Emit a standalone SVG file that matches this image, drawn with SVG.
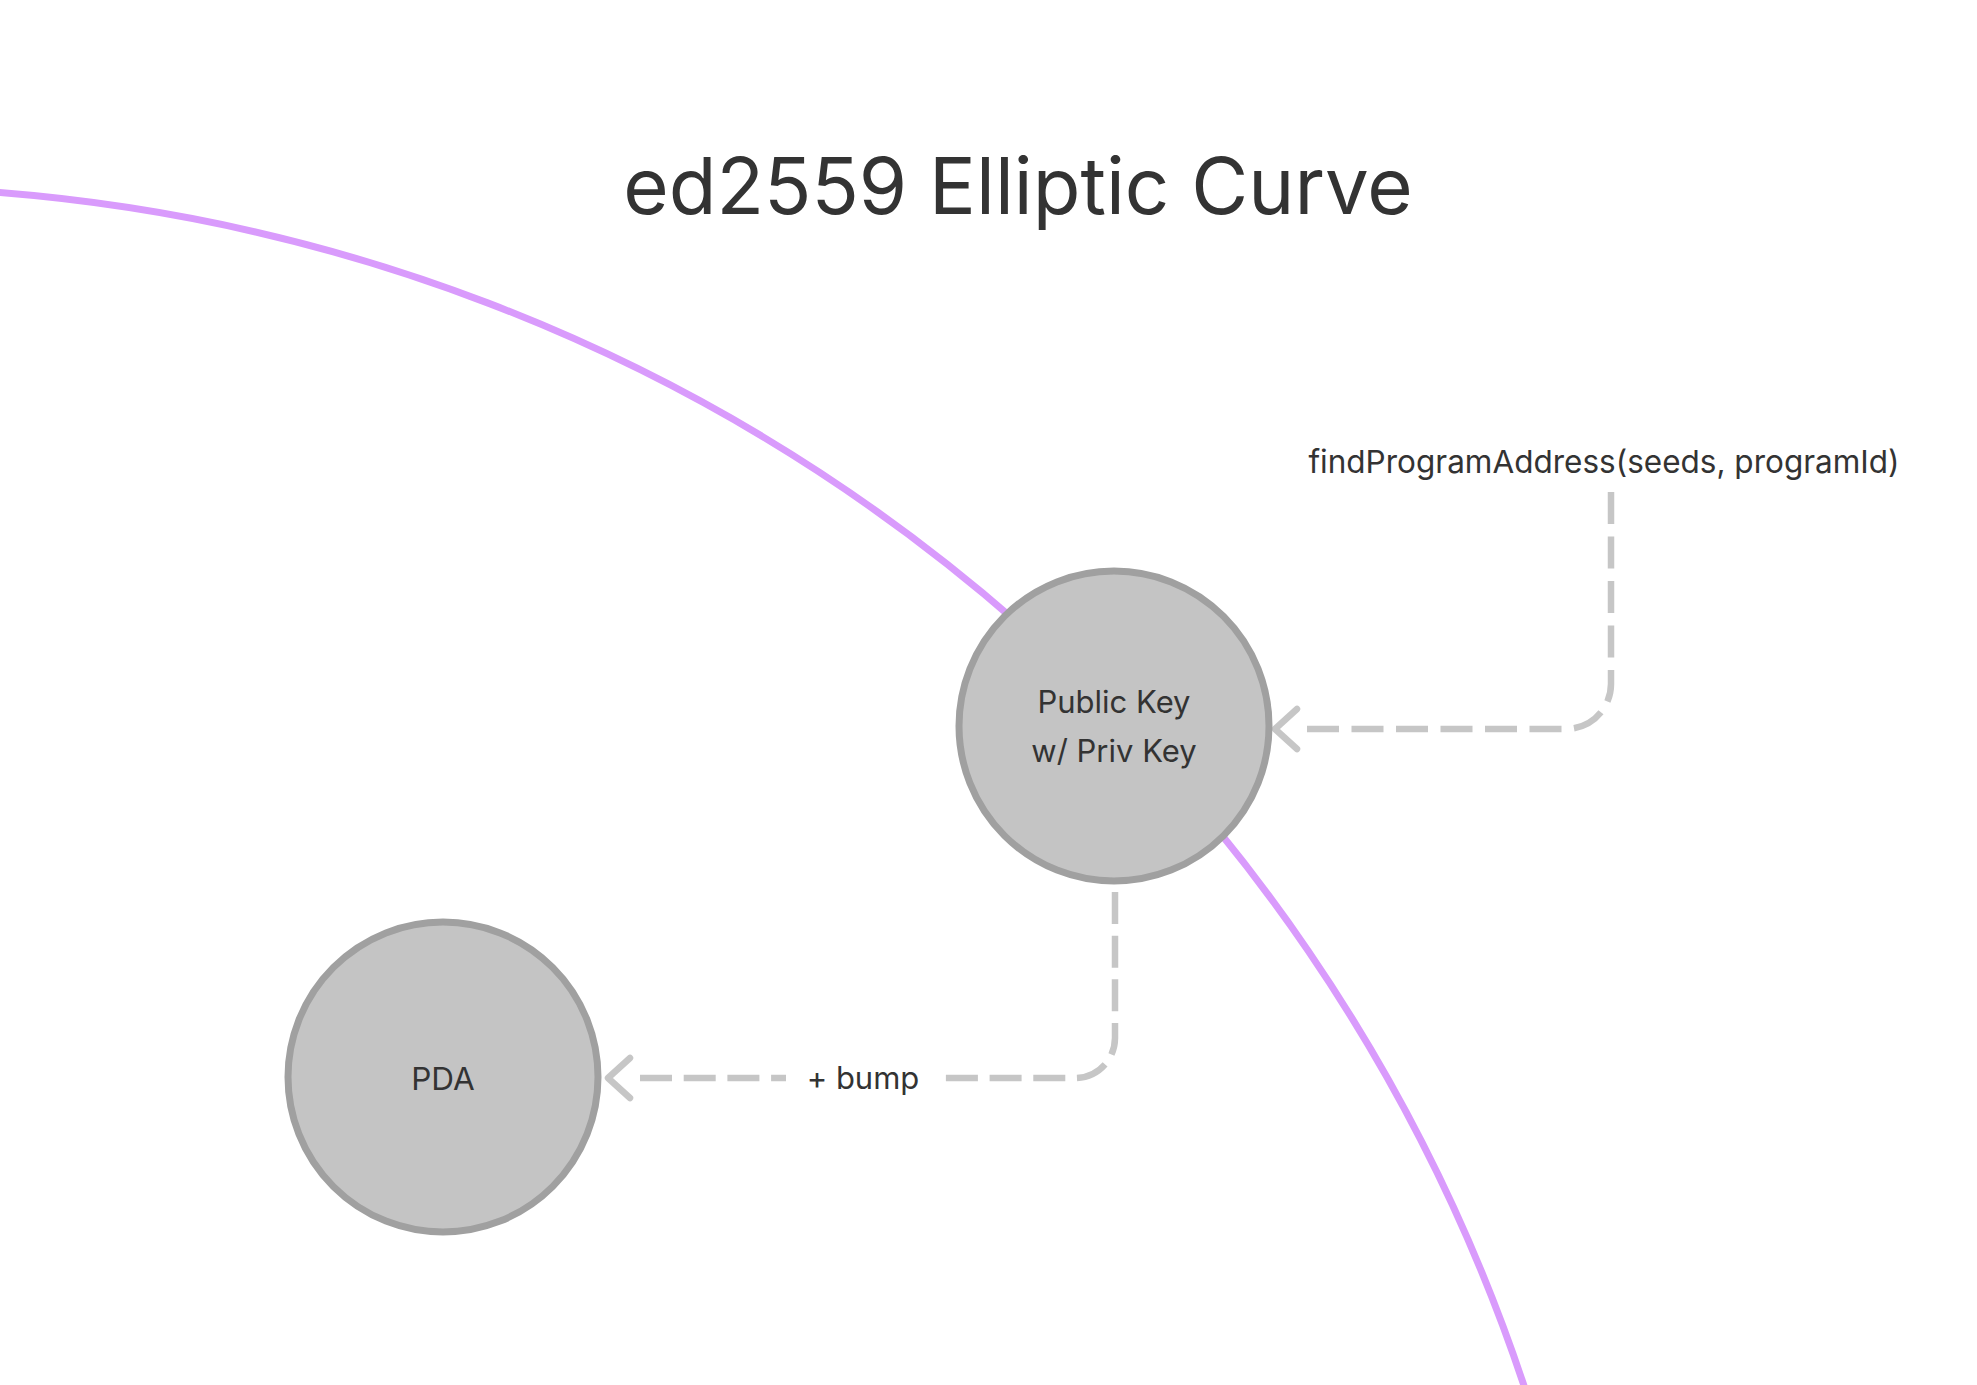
<svg xmlns="http://www.w3.org/2000/svg" width="1977" height="1385" viewBox="0 0 1977 1385">
  <style>
    .txt { font-family: Inter, "Noto Sans", "Liberation Sans", sans-serif; fill: #333333; }
    .node circle { fill: #c4c4c4; stroke: #a0a0a0; stroke-width: 7; }
    .conn { fill: none; stroke: #c6c6c6; stroke-width: 6.5; }
    .curve { fill: none; stroke: #d99bfc; stroke-width: 7; }
  </style>
  <defs>
    <marker id="chev" markerUnits="userSpaceOnUse" orient="auto-start-reverse" refX="0" refY="0" markerWidth="60" markerHeight="60" viewBox="-5 -30 45 60" overflow="visible">
      <path d="M10,-20 L32,0 L10,20" fill="none" stroke="#c6c6c6" stroke-width="6.5" stroke-linecap="round" stroke-linejoin="round"/>
    </marker>
  </defs>
  <rect width="1977" height="1385" fill="#ffffff"/>

  <g id="elliptic-curve">
    <path class="curve" d="M-5,192.2 A1753,1753 0 0 1 1530.3,1405"/>
  </g>

  <g id="title">
    <text class="txt" x="1018" y="214" font-size="78" text-anchor="middle">ed2559 Elliptic Curve</text>
  </g>

  <g id="connectors">
    <path class="conn" stroke-dasharray="32 12.5" marker-start="url(#chev)" d="M1307,729 H1566 A45,45 0 0 0 1611,684 V492"/>
    <path class="conn" stroke-dasharray="32 11.7" marker-start="url(#chev)" d="M640,1078 H1075 A40,40 0 0 0 1115,1038 V892"/>
    <rect x="786" y="1052" width="154" height="50" fill="#ffffff"/>
    <text class="txt" x="863" y="1089" font-size="31" text-anchor="middle">+ bump</text>
  </g>

  <g id="label-findProgramAddress">
    <text class="txt" x="1604" y="473" font-size="31.5" text-anchor="middle">findProgramAddress(seeds, programId)</text>
  </g>

  <g id="node-public-key" class="node">
    <circle cx="1114" cy="726" r="155"/>
    <text class="txt" x="1114" y="713" font-size="31" text-anchor="middle">Public Key</text>
    <text class="txt" x="1114" y="762" font-size="31" text-anchor="middle">w/ Priv Key</text>
  </g>

  <g id="node-pda" class="node">
    <circle cx="443" cy="1077" r="155"/>
    <text class="txt" x="443" y="1090" font-size="31.5" text-anchor="middle">PDA</text>
  </g>
</svg>
